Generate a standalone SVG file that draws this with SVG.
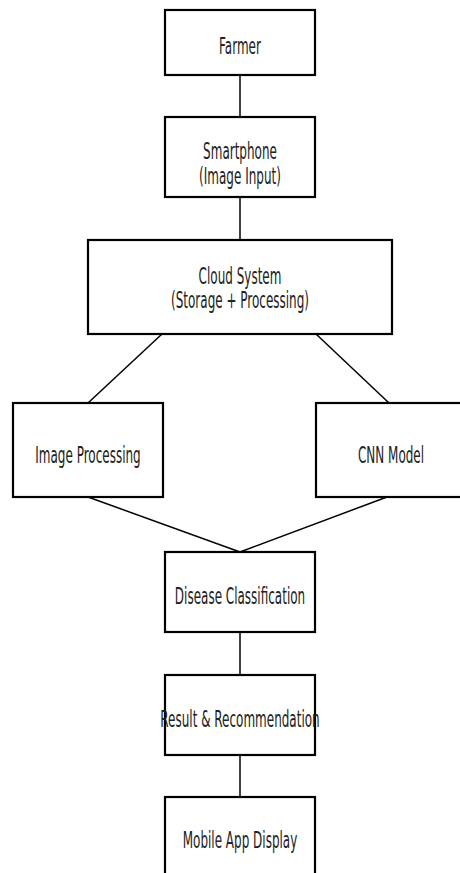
<svg xmlns="http://www.w3.org/2000/svg" width="460" height="873" viewBox="0 0 460 873">
<style>
.box{fill:#fff;stroke:#000;stroke-width:2.2}
.edge{stroke:#000;stroke-width:1.5;fill:none}
text{font-family:"DejaVu Sans","Liberation Sans",sans-serif;font-size:12px;fill:#222;text-anchor:middle}
</style>
<rect width="460" height="873" fill="#fff"/>
<g id="connectors">
<line class="edge" x1="240" y1="75" x2="240" y2="117"/>
<line class="edge" x1="240" y1="197" x2="240" y2="240"/>
<line class="edge" x1="162" y1="334" x2="88" y2="403"/>
<line class="edge" x1="316" y1="334" x2="389" y2="403"/>
<line class="edge" x1="88" y1="497" x2="240" y2="552"/>
<line class="edge" x1="387" y1="497" x2="240" y2="552"/>
<line class="edge" x1="240" y1="632" x2="240" y2="675"/>
<line class="edge" x1="240" y1="755" x2="240" y2="797"/>
</g>
<g id="farmer">
<rect class="box" x="165" y="10" width="150" height="65"/>
<text transform="translate(240,54) scale(1,1.9)">Farmer</text>
</g>
<g id="smartphone">
<rect class="box" x="165" y="117" width="150" height="80"/>
<text transform="translate(240,159) scale(1,1.9)">Smartphone</text>
<text transform="translate(240,184) scale(1,1.9)">(Image Input)</text>
</g>
<g id="cloud">
<rect class="box" x="88" y="240" width="304" height="94"/>
<text transform="translate(240,284) scale(1,1.9)">Cloud System</text>
<text transform="translate(240,308) scale(1,1.9)">(Storage + Processing)</text>
</g>
<g id="imageprocessing">
<rect class="box" x="13" y="403" width="150" height="94"/>
<text transform="translate(88,463) scale(1,1.9)">Image Processing</text>
</g>
<g id="cnn">
<rect class="box" x="316" y="403" width="150" height="94"/>
<text transform="translate(391,463) scale(1,1.9)">CNN Model</text>
</g>
<g id="disease">
<rect class="box" x="165" y="552" width="150" height="80"/>
<text transform="translate(240,604) scale(1,1.9)">Disease Classification</text>
</g>
<g id="result">
<rect class="box" x="165" y="675" width="150" height="80"/>
<text transform="translate(240,727) scale(1,1.9)">Result &amp; Recommendation</text>
</g>
<g id="mobile">
<rect class="box" x="165" y="797" width="150" height="80"/>
<text transform="translate(240,848) scale(1,1.9)">Mobile App Display</text>
</g>
</svg>
